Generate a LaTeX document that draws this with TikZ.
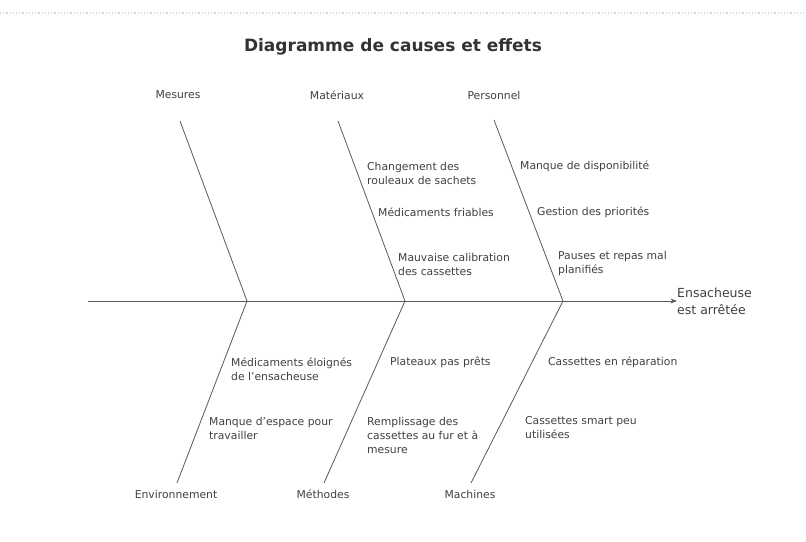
\documentclass[tikz,border=0pt]{standalone}
\usepackage{fontspec}
\setmainfont{DejaVu Sans}
\usetikzlibrary{arrows.meta,positioning}

\begin{document}
\begin{tikzpicture}[
  x=1pt,y=-1pt,
  >=Stealth,
  every node/.style={font=\fontsize{10.8}{14}\selectfont,text=black!75},
  bone/.style={draw=black!65,line width=0.8pt},
  cat/.style={inner sep=0pt},
  cause/.style={anchor=west,align=left,inner sep=0pt}
]
\useasboundingbox (0,0) rectangle (806,541);
\draw[black!15,dotted,line width=1.2pt] (0,13) -- (806,13);

\node[font=\bfseries\fontsize{17}{20}\selectfont,text=black!80] (title) at (393,47) {Diagramme de causes et effets};

% spine and effect
\coordinate (tail) at (88,301);
\node[anchor=west,align=left,inner sep=0pt,font=\fontsize{12.5}{17}\selectfont] (effet) at (677,301) {Ensacheuse\\est arrêtée};
\draw[bone,->] (tail) -- (effet.west);

\coordinate (J1) at (247,301);
\coordinate (J2) at (405,301);
\coordinate (J3) at (563,301);

% categories
\node[cat] (mes)  at (178,95)  {Mesures};
\node[cat] (mat)  at (337,95)  {Matériaux};
\node[cat] (pers) at (494,95)  {Personnel};
\node[cat] (env)  at (176,494) {Environnement};
\node[cat] (meth) at (323,494) {Méthodes};
\node[cat] (mach) at (470,494) {Machines};

\coordinate (T1) at (180,121);
\coordinate (T2) at (338,121);
\coordinate (T3) at (494,120);
\coordinate (B1) at (177,483);
\coordinate (B2) at (324,483);
\coordinate (B3) at (471,483);

\draw[bone] (T1) -- (J1) -- (B1);
\draw[bone] (T2) -- (J2) -- (B2);
\draw[bone] (T3) -- (J3) -- (B3);

% causes
\node[cause] (c1) at (367,173) {Changement des\\rouleaux de sachets};
\node[cause] (c2) at (378,212) {Médicaments friables};
\node[cause] (c3) at (398,264) {Mauvaise calibration\\des cassettes};
\node[cause] (c4) at (520,166) {Manque de disponibilité};
\node[cause] (c5) at (537,212) {Gestion des priorités};
\node[cause] (c6) at (558,264) {Pauses et repas mal\\planifiés};
\node[cause] (c7) at (231,369) {Médicaments éloignés\\de l'ensacheuse};
\node[cause] (c8) at (390,362) {Plateaux pas prêts};
\node[cause] (c9) at (548,362) {Cassettes en réparation};
\node[cause] (c10) at (209,428) {Manque d'espace pour\\travailler};
\node[cause] (c11) at (367,435) {Remplissage des\\cassettes au fur et à\\mesure};
\node[cause] (c12) at (525,428) {Cassettes smart peu\\utilisées};
\end{tikzpicture}
\end{document}
